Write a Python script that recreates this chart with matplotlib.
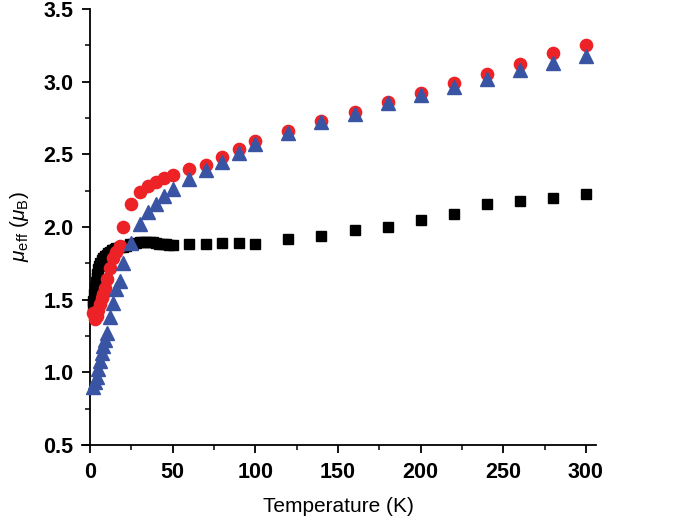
import matplotlib
matplotlib.use("Agg")
import matplotlib.pyplot as plt
from matplotlib.ticker import MultipleLocator

plt.rcParams['font.family'] = ['Liberation Sans', 'DejaVu Sans']
plt.rcParams['mathtext.fontset'] = 'custom'
plt.rcParams['mathtext.rm'] = 'Liberation Sans'
plt.rcParams['mathtext.it'] = 'Liberation Sans:italic'

# ---- data ----
T_black = [1.8, 2.0, 2.5, 3.0, 3.5, 4.0, 4.5, 5.0, 5.5, 6.0, 7.0, 8.0, 9.0, 10, 11, 12, 13, 14,
           15, 16, 18, 20, 22, 24, 26, 28, 30, 32, 34, 36, 38, 40, 42, 44, 46, 48, 50,
           60, 70, 80, 90, 100, 120, 140, 160, 180, 200, 220, 240, 260, 280, 300]
mu_black = [1.46, 1.49, 1.54, 1.58, 1.62, 1.65, 1.68, 1.71, 1.73, 1.75, 1.77, 1.79, 1.80, 1.81, 1.82,
            1.83, 1.84, 1.845, 1.85, 1.855, 1.86, 1.865, 1.87, 1.88, 1.885, 1.89, 1.895, 1.90, 1.90,
            1.90, 1.895, 1.89, 1.885, 1.88, 1.88, 1.875, 1.875,
            1.88, 1.885, 1.89, 1.89, 1.885, 1.92, 1.94, 1.98, 2.00, 2.05, 2.09, 2.16, 2.18, 2.20, 2.23]

T_red = [2, 3, 4, 5, 6, 7, 8, 9, 10, 12, 14, 16, 18, 20, 25, 30, 35, 40, 45, 50,
         60, 70, 80, 90, 100, 120, 140, 160, 180, 200, 220, 240, 260, 280, 300]
mu_red = [1.41, 1.37, 1.39, 1.43, 1.47, 1.51, 1.54, 1.58, 1.64, 1.72, 1.79, 1.83, 1.87, 2.00,
          2.16, 2.24, 2.28, 2.31, 2.34, 2.36,
          2.40, 2.43, 2.48, 2.54, 2.59, 2.66, 2.73, 2.79, 2.86, 2.92, 2.99, 3.05, 3.12, 3.20, 3.25]

T_blue = [2, 3, 4, 5, 6, 7, 8, 9, 10, 12, 14, 16, 18, 20, 25, 30, 35, 40, 45, 50,
          60, 70, 80, 90, 100, 120, 140, 160, 180, 200, 220, 240, 260, 280, 300]
mu_blue = [0.90, 0.93, 0.97, 1.02, 1.08, 1.13, 1.18, 1.22, 1.27, 1.38, 1.48, 1.57, 1.63, 1.75,
           1.89, 2.02, 2.10, 2.16, 2.21, 2.26,
           2.33, 2.39, 2.45, 2.51, 2.57, 2.65, 2.72, 2.78, 2.85, 2.91, 2.96, 3.02, 3.08, 3.13, 3.18]

x_ticks = [0, 50, 100, 150, 200, 250, 300]
y_ticks = [0.5, 1.0, 1.5, 2.0, 2.5, 3.0, 3.5]

# ---- figure ----
fig = plt.figure(figsize=(6.85, 5.21), dpi=100)
ax = fig.add_axes([0.1194, 0.1459, 0.8698 - 0.1194, 0.9827 - 0.1459])

ax.plot(T_black, mu_black, ls='none', marker='s', ms=7.2, color='black', mec='black', zorder=3)
ax.plot(T_red, mu_red, ls='none', marker='o', ms=8.8, color='#ec2227', mec='#ec2227', zorder=4)
ax.plot(T_blue, mu_blue, ls='none', marker='^', ms=9.5, color='#3a54a4', mec='#3a54a4', zorder=5)

ax.set_xlim(-5, 306)
ax.set_ylim(0.5, 3.5)
ax.set_xticks(x_ticks)
ax.set_yticks(y_ticks)
ax.xaxis.set_minor_locator(MultipleLocator(25))
ax.yaxis.set_minor_locator(MultipleLocator(0.25))
ax.set_yticklabels([f"{v:.1f}" for v in y_ticks])

for s in ['top', 'right']:
    ax.spines[s].set_visible(False)
ax.spines['left'].set_position(('data', 0))
for s in ['left', 'bottom']:
    ax.spines[s].set_linewidth(1.3)

ax.tick_params(which='major', direction='out', length=6, width=1.3, pad=6)
ax.tick_params(which='minor', direction='out', length=3.5, width=1.1)
for lbl in ax.get_xticklabels() + ax.get_yticklabels():
    lbl.set_fontweight('bold')
    lbl.set_fontsize(15.5)

ax.set_xlabel('Temperature (K)', fontsize=15, labelpad=10)
ax.set_ylabel(r'$\mu_{\rm eff}$ ($\mu_{\rm B}$)', fontsize=15, labelpad=9)

fig.savefig('out.png', dpi=100)
